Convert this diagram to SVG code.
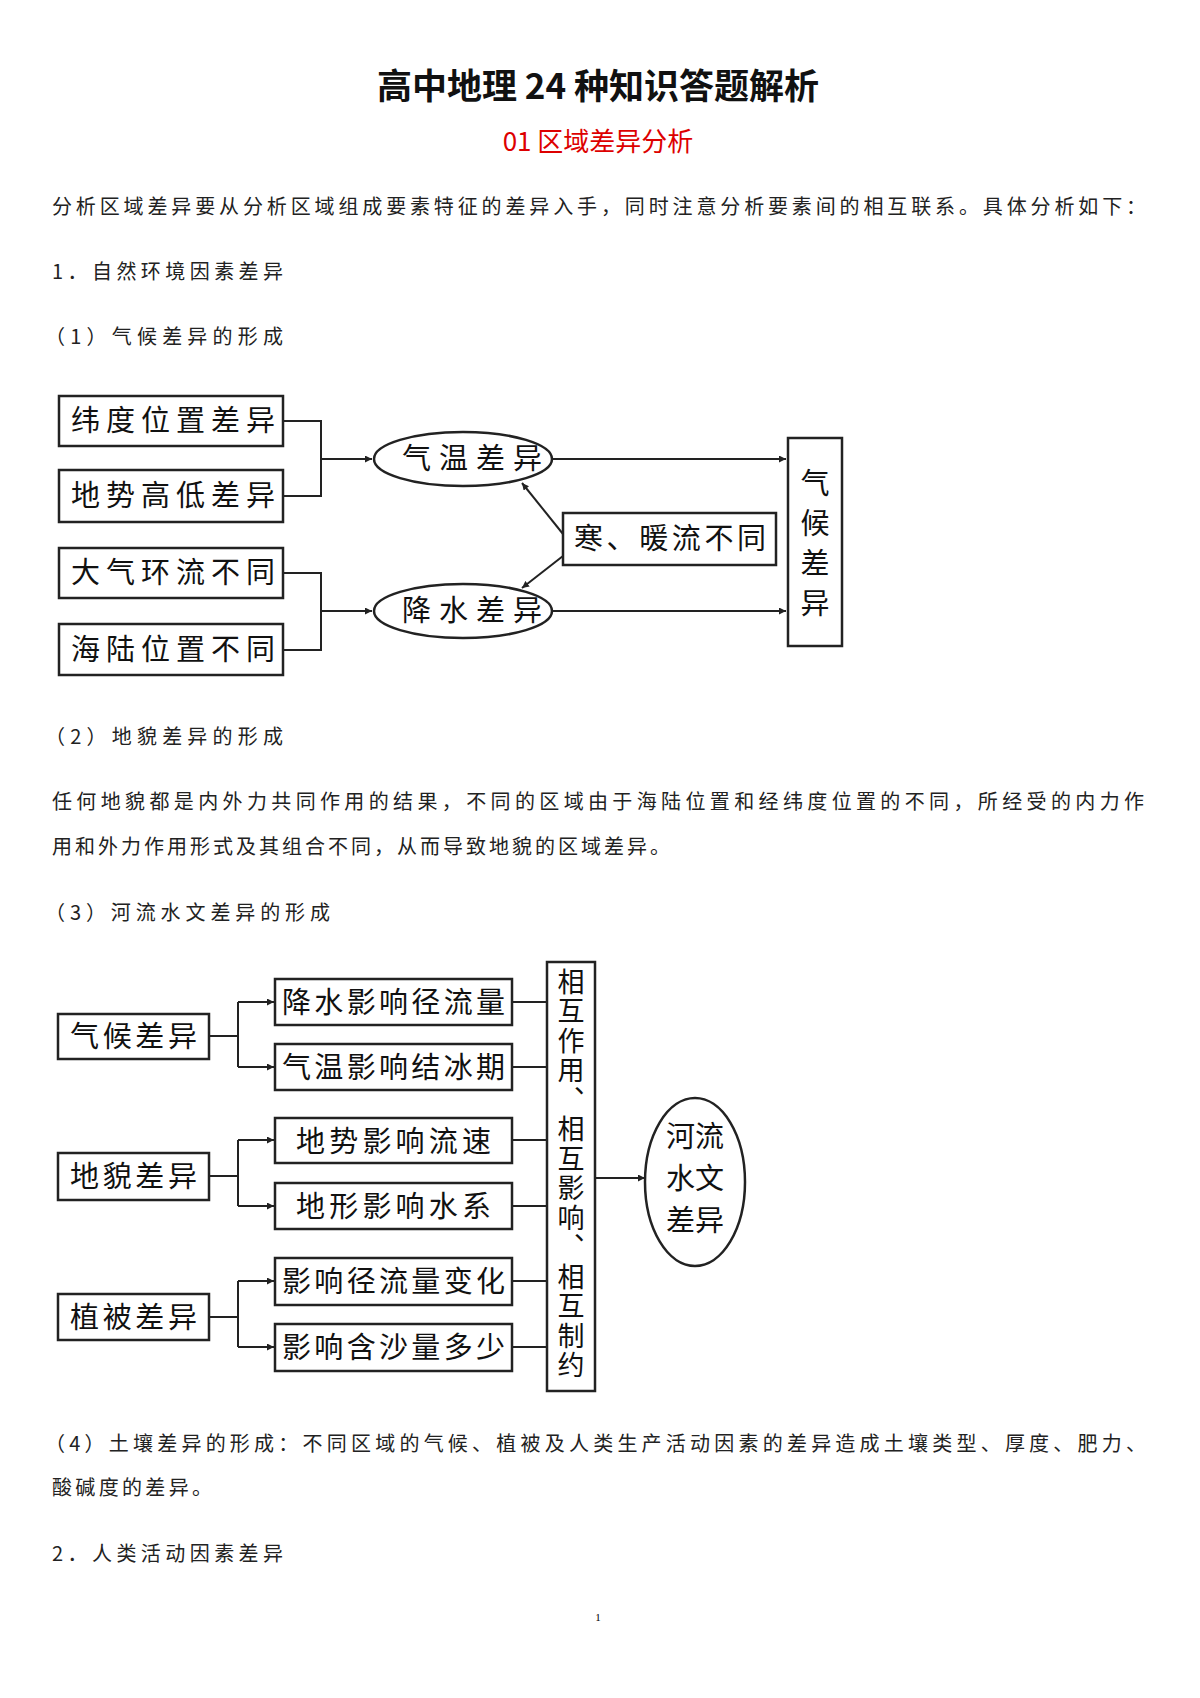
<svg xmlns="http://www.w3.org/2000/svg" width="1200" height="1698" viewBox="0 0 1200 1698">
<style>
.b{fill:#fff;stroke:#222;stroke-width:2.5}
.t{font-family:"Noto Sans CJK SC","Noto Sans CJK JP",sans-serif;fill:#111}
.d{font-size:29px}
.p{font-size:20px;fill:#222}
.l{stroke:#222;stroke-width:2;fill:none}
</style>
<defs><marker id="a" viewBox="0 0 10 10" refX="10" refY="5" markerWidth="7" markerHeight="7" orient="auto" markerUnits="userSpaceOnUse"><path d="M0,0L10,5L0,10z" fill="#222"/></marker></defs>
<rect width="1200" height="1698" fill="#fff"/>
<text class="t" x="598" y="99" font-size="35" font-weight="bold" text-anchor="middle">高中地理 24 种知识答题解析</text>
<text class="t" x="598" y="151" font-size="26" text-anchor="middle" style="fill:#d00">01 区域差异分析</text>
<text class="t p" x="52" y="214" textLength="1094" lengthAdjust="spacing">分析区域差异要从分析区域组成要素特征的差异入手，同时注意分析要素间的相互联系。具体分析如下：</text>
<text class="t p" x="52" y="279" textLength="231" lengthAdjust="spacing">1．自然环境因素差异</text>
<text class="t p" x="45" y="344" textLength="238" lengthAdjust="spacing">（1）气候差异的形成</text>
<g id="c1">
<g id="n1"><rect class="b" x="59" y="396" width="224" height="50"/><text class="t d" x="71" y="431" textLength="204">纬度位置差异</text></g>
<g id="n2"><rect class="b" x="59" y="470" width="224" height="52"/><text class="t d" x="71" y="506" textLength="204">地势高低差异</text></g>
<g id="n3"><rect class="b" x="59" y="548" width="224" height="50"/><text class="t d" x="71" y="583" textLength="204">大气环流不同</text></g>
<g id="n4"><rect class="b" x="59" y="624" width="224" height="51"/><text class="t d" x="71" y="660" textLength="204">海陆位置不同</text></g>
<g id="n5"><ellipse class="b" cx="463" cy="459" rx="89" ry="27"/><text class="t d" x="402" y="469" textLength="140">气温差异</text></g>
<g id="n6"><ellipse class="b" cx="463" cy="611" rx="89" ry="27"/><text class="t d" x="402" y="621" textLength="140">降水差异</text></g>
<g id="n7"><rect class="b" x="563" y="513" width="213" height="52"/><text class="t d" x="574" y="549" textLength="192">寒、暖流不同</text></g>
<g id="n8"><rect class="b" x="788" y="438" width="54" height="208"/><text class="t d" x="815" y="468" writing-mode="vertical-rl" letter-spacing="11">气候差异</text></g>
</g>
<g id="e1">
<path class="l" d="M283,421H321V496H283M321,459H372" marker-end="url(#a)"/>
<path class="l" d="M283,573H321V650H283M321,611H372" marker-end="url(#a)"/>
<path class="l" d="M552,459H786" marker-end="url(#a)"/>
<path class="l" d="M552,611H786" marker-end="url(#a)"/>
<path class="l" d="M563,534L522,483" marker-end="url(#a)"/>
<path class="l" d="M563,556L522,588" marker-end="url(#a)"/>
</g>
<text class="t p" x="45" y="744" textLength="238" lengthAdjust="spacing">（2）地貌差异的形成</text>
<text class="t p" x="52" y="809" textLength="1092" lengthAdjust="spacing">任何地貌都是内外力共同作用的结果，不同的区域由于海陆位置和经纬度位置的不同，所经受的内力作</text>
<text class="t p" x="52" y="854" textLength="618" lengthAdjust="spacing">用和外力作用形式及其组合不同，从而导致地貌的区域差异。</text>
<text class="t p" x="45" y="920" textLength="285" lengthAdjust="spacing">（3）河流水文差异的形成</text>
<g id="c2">
<g id="m1"><rect class="b" x="58" y="1014" width="151" height="45"/><text class="t d" x="70" y="1047" textLength="127">气候差异</text></g>
<g id="m2"><rect class="b" x="58" y="1153" width="151" height="47"/><text class="t d" x="70" y="1187" textLength="127">地貌差异</text></g>
<g id="m3"><rect class="b" x="58" y="1294" width="151" height="46"/><text class="t d" x="70" y="1328" textLength="127">植被差异</text></g>
<g id="k1"><rect class="b" x="275" y="979" width="237" height="46"/><text class="t d" x="282" y="1013" textLength="223">降水影响径流量</text></g>
<g id="k2"><rect class="b" x="275" y="1044" width="237" height="46"/><text class="t d" x="282" y="1078" textLength="223">气温影响结冰期</text></g>
<g id="k3"><rect class="b" x="275" y="1118" width="237" height="45"/><text class="t d" x="296" y="1152" textLength="195">地势影响流速</text></g>
<g id="k4"><rect class="b" x="275" y="1183" width="237" height="46"/><text class="t d" x="296" y="1217" textLength="195">地形影响水系</text></g>
<g id="k5"><rect class="b" x="275" y="1258" width="237" height="47"/><text class="t d" x="282" y="1292" textLength="223">影响径流量变化</text></g>
<g id="k6"><rect class="b" x="275" y="1324" width="237" height="47"/><text class="t d" x="282" y="1358" textLength="223">影响含沙量多少</text></g>
<g id="k7"><rect class="b" x="547" y="962" width="48" height="429"/><text class="t" font-size="27" x="571" y="968" writing-mode="vertical-rl" letter-spacing="2.5">相互作用、相互影响、相互制约</text></g>
<g id="k8"><ellipse class="b" cx="695" cy="1182" rx="50" ry="84"/><text class="t d" text-anchor="middle"><tspan x="695" y="1147">河流</tspan><tspan x="695" y="1189">水文</tspan><tspan x="695" y="1231">差异</tspan></text></g>
</g>
<g id="e2">
<path class="l" d="M209,1036H238M238,1002V1067"/><path class="l" d="M238,1002H274" marker-end="url(#a)"/><path class="l" d="M238,1067H274" marker-end="url(#a)"/>
<path class="l" d="M209,1176H238M238,1140V1206"/><path class="l" d="M238,1140H274" marker-end="url(#a)"/><path class="l" d="M238,1206H274" marker-end="url(#a)"/>
<path class="l" d="M209,1317H238M238,1281V1347"/><path class="l" d="M238,1281H274" marker-end="url(#a)"/><path class="l" d="M238,1347H274" marker-end="url(#a)"/>
<path class="l" d="M512,1002H547M512,1067H547M512,1140H547M512,1206H547M512,1281H547M512,1347H547"/>
<path class="l" d="M595,1178H645" marker-end="url(#a)"/>
</g>
<text class="t p" x="45" y="1451" textLength="1101" lengthAdjust="spacing">（4）土壤差异的形成：不同区域的气候、植被及人类生产活动因素的差异造成土壤类型、厚度、肥力、</text>
<text class="t p" x="52" y="1495" textLength="160" lengthAdjust="spacing">酸碱度的差异。</text>
<text class="t p" x="52" y="1561" textLength="231" lengthAdjust="spacing">2．人类活动因素差异</text>
<text x="598" y="1621" font-family="Liberation Serif,serif" font-size="11" text-anchor="middle">1</text>
</svg>
